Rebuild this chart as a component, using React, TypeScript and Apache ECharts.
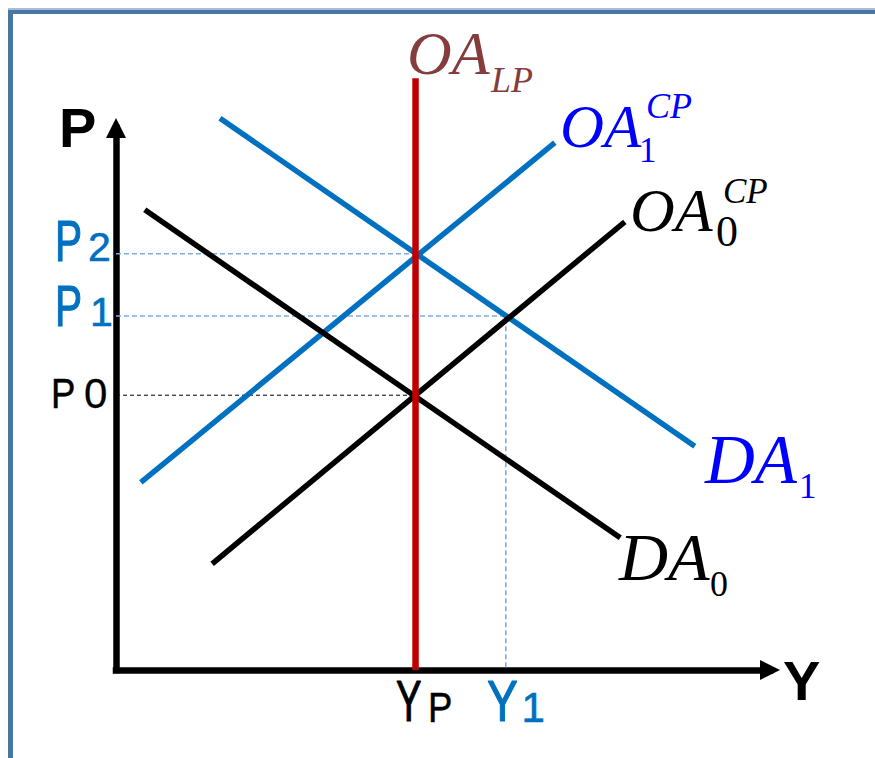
import React, { useEffect, useRef } from "react";
import * as echarts from "echarts";

// Values (abstract units: Y on x axis, P on y axis)
const YP = 45.8;
const Y1 = 59.6;
const P0 = 50.7;
const P1 = 65.3;
const P2 = 76.8;
const LP_TOP = 109.2;
const da0: number[][] = [[4.4, 84.9], [77.1, 24.4]];
const oa0: number[][] = [[14.7, 19.6], [77.8, 82.7]];
const da1: number[][] = [[15.9, 101.8], [88.5, 41.3]];
const oa1: number[][] = [[3.8, 34.6], [67.1, 97.3]];
const oaLP: number[][] = [[YP, 0], [YP, LP_TOP]];
const p0Guide: number[][] = [[0, P0], [YP, P0]];
const p2Guide: number[][] = [[0, P2], [YP, P2]];
const p1Guide: number[][] = [[0, P1], [Y1, P1], [Y1, 0]];

const SERIF = "'Liberation Serif', 'Times New Roman', serif";
const SANS = "'Liberation Sans', Arial, sans-serif";
const BLUE_LINE = "#0070c0";
const BLUE_MATH = "#0000ff";
const RED = "#c00000";
const BROWN = "#843c3c";

type TOpts = { italic?: boolean; bold?: boolean; sx?: number; serif?: boolean; heavy?: number };
const txt = (text: string, x: number, cy: number, size: number, color: string, o: TOpts = {}) => ({
  type: "text",
  x,
  y: cy,
  scaleX: o.sx ?? 1,
  z: 100,
  style: {
    text,
    fontSize: size,
    fontFamily: o.serif ? SERIF : SANS,
    fontStyle: o.italic ? "italic" : "normal",
    fontWeight: o.bold ? "bold" : "normal",
    fill: color,
    stroke: o.heavy ? color : undefined,
    lineWidth: o.heavy ?? 0,
    align: "left",
    verticalAlign: "middle",
  },
});

const lineSeries = (data: number[][], color: string, width: number, type: any = "solid", z = 2) => ({
  type: "line",
  data,
  symbol: "none",
  showSymbol: false,
  clip: false,
  z,
  lineStyle: { color, width, type, cap: "butt" },
  silent: true,
});

export default function App() {
  const ref = useRef<HTMLDivElement>(null);
  useEffect(() => {
    if (!ref.current) return;
    const chart = echarts.init(ref.current, undefined, { renderer: "svg" });
    const axisCommon = {
      type: "value",
      min: 0,
      max: 100,
      axisTick: { show: false },
      axisLabel: { show: false },
      splitLine: { show: false },
      axisLine: {
        show: true,
        symbol: ["none", "triangle"],
        symbolSize: [20, 20],
        lineStyle: { color: "#000", width: 6.5, cap: "square" },
      },
    };
    chart.setOption({
      animation: false,
      backgroundColor: "#ffffff",
      grid: { left: 116, right: 105, top: 128, bottom: 88 },
      xAxis: { ...axisCommon },
      yAxis: { ...axisCommon },
      series: [
        lineSeries(p0Guide, "#000000", 1, [4, 3], 1),
        lineSeries(p2Guide, "#7fade0", 1.6, [5, 3], 1),
        lineSeries(p1Guide, "#7fade0", 1.6, [5, 3], 1),
        lineSeries(oa1, BLUE_LINE, 5.5),
        lineSeries(da1, BLUE_LINE, 5.5),
        lineSeries(da0, "#000000", 5.5),
        lineSeries(oa0, "#000000", 5.5),
        lineSeries(oaLP, RED, 6.5, "solid", 5),
      ],
      graphic: [
        // frame
        { type: "rect", shape: { x: 8, y: 8, width: 867, height: 2 }, style: { fill: "#a9bed4" } },
        { type: "rect", shape: { x: 8, y: 10, width: 867, height: 4 }, style: { fill: "#4a76a3" } },
        { type: "rect", shape: { x: 8, y: 10, width: 5, height: 748 }, style: { fill: "#4a76a3" } },
        // axis titles
        txt("P", 59, 127, 56, "#000", { bold: true }),
        txt("Y", 783, 680, 56, "#000", { bold: true }),
        // price labels
        txt("P", 55, 241, 58, BLUE_LINE, { sx: 0.7, heavy: 1.2 }),
        txt("2", 88, 246.5, 41, BLUE_LINE, { heavy: 0.6 }),
        txt("P", 55, 306, 58, BLUE_LINE, { sx: 0.7, heavy: 1.2 }),
        txt("1", 90, 312, 41, BLUE_LINE, { heavy: 0.6 }),
        txt("P", 51, 392.5, 43, "#000", { sx: 0.85, heavy: 0.5 }),
        txt("0", 84, 393, 42, "#000", { heavy: 0.3 }),
        // output labels
        txt("Y", 396, 701, 58, "#000", { sx: 0.66, heavy: 1.2 }),
        txt("P", 428, 706.5, 43, "#000", { sx: 0.85, heavy: 0.5 }),
        txt("Y", 487, 701, 58, BLUE_LINE, { sx: 0.8, heavy: 1.2 }),
        txt("1", 521.5, 707, 42, BLUE_LINE, { heavy: 0.6 }),
        // OA_LP
        txt("OA", 407, 53, 62, BROWN, { serif: true, italic: true }),
        txt("LP", 491, 80, 36, BROWN, { serif: true, italic: true }),
        // OA1^CP
        txt("OA", 560, 126, 61, BLUE_MATH, { serif: true, italic: true }),
        txt("1", 639, 150, 35, BLUE_MATH, { serif: true }),
        txt("CP", 646, 106, 36, BLUE_MATH, { serif: true, italic: true }),
        // OA0^CP
        txt("OA", 630, 210, 62, "#000", { serif: true, italic: true }),
        txt("0", 716, 231, 44, "#000", { serif: true }),
        txt("CP", 723, 191.5, 35, "#000", { serif: true, italic: true }),
        // DA1
        txt("DA", 705, 460, 69, BLUE_MATH, { serif: true, italic: true }),
        txt("1", 799, 486.5, 35, BLUE_MATH, { serif: true }),
        // DA0
        txt("DA", 619, 556.5, 68, "#000", { serif: true, italic: true }),
        txt("0", 710, 583.5, 36, "#000", { serif: true }),
      ],
    });
    return () => chart.dispose();
  }, []);
  return (
    <div
      ref={ref}
      style={{ position: "fixed", left: 0, top: 0, width: 875, height: 758, background: "#fff" }}
    />
  );
}
